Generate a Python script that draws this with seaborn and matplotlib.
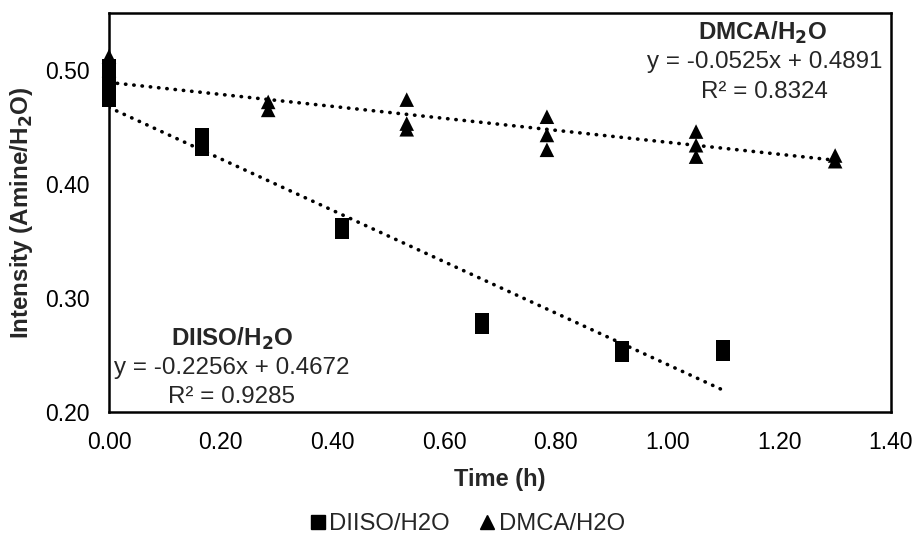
import numpy as np
import pandas as pd
import matplotlib
matplotlib.use("Agg")
import matplotlib.pyplot as plt
import seaborn as sns

# ---- data ----
diiso_x = [0.0, 0.0, 0.0, 0.167, 0.167, 0.417, 0.668, 0.918, 1.099]
diiso_y = [0.500, 0.483, 0.477, 0.440, 0.434, 0.361, 0.278, 0.253, 0.254]
dmca_x = [0.0, 0.0, 0.285, 0.285, 0.533, 0.533, 0.533, 0.784, 0.784, 0.784, 1.051, 1.051, 1.051, 1.30, 1.30]
dmca_y = [0.512, 0.500, 0.472, 0.465, 0.474, 0.453, 0.448, 0.459, 0.443, 0.430, 0.446, 0.434, 0.424, 0.425, 0.420]
fit_diiso = (-0.2256, 0.4672)
fit_dmca = (-0.0525, 0.4891)
x_ticks = [0.0, 0.2, 0.4, 0.6, 0.8, 1.0, 1.2, 1.4]
y_ticks = [0.2, 0.3, 0.4, 0.5]

sns.set_theme(style="white")
plt.rcParams['font.family'] = ['Liberation Sans', 'DejaVu Sans']

fig = plt.figure(figsize=(9.19, 5.40), dpi=100)
ax = fig.add_axes([109/919, 1-412/540, (891-109)/919, (412-13)/540])

df1 = pd.DataFrame({"x": diiso_x, "y": diiso_y})
df2 = pd.DataFrame({"x": dmca_x, "y": dmca_y})

rect = [(-0.34, -0.5), (0.34, -0.5), (0.34, 0.5), (-0.34, 0.5)]
sns.scatterplot(data=df1, x="x", y="y", ax=ax, marker=rect, s=230, color="black",
                edgecolor="none", linewidth=0, zorder=3, clip_on=False)
sns.scatterplot(data=df2, x="x", y="y", ax=ax, marker="^", s=110, color="black",
                edgecolor="none", linewidth=0, zorder=4, clip_on=False)

for xs, (m, b) in ((diiso_x, fit_diiso), (dmca_x, fit_dmca)):
    xl = np.array([min(xs), max(xs)])
    ax.plot(xl, m * xl + b, color="black", linestyle=(0, (0.1, 2.2)), linewidth=2.6,
            dash_capstyle="round", zorder=2)

ax.set_xlim(0, 1.4)
ax.set_ylim(0.2, 0.55)
ax.set_xticks(x_ticks)
ax.set_yticks(y_ticks)
ax.set_xticklabels([f"{v:.2f}" for v in x_ticks])
ax.set_yticklabels([f"{v:.2f}" for v in y_ticks])
ax.tick_params(axis="both", length=0, labelsize=16.5, colors="black")
ax.tick_params(axis="y", pad=14)
ax.tick_params(axis="x", pad=14)
for s in ax.spines.values():
    s.set_visible(True)
    s.set_color("black")
    s.set_linewidth(1.8)

ax.set_xlabel("Time (h)", fontsize=17, fontweight="bold", labelpad=10)
ax.set_ylabel("Intensity (Amine/H$_\\mathbf{2}$O)", fontsize=17.4, fontweight="bold", labelpad=7)

# annotations
fs = 17.4
ax.text(0.220, 0.264, "DIISO/H$_\\mathbf{2}$O", fontsize=fs, fontweight="bold", ha="center", va="center")
ax.text(0.220, 0.2385, "y = -0.2256x + 0.4672", fontsize=fs, ha="center", va="center")
ax.text(0.220, 0.213, "R² = 0.9285", fontsize=fs, ha="center", va="center")
ax.text(1.170, 0.5325, "DMCA/H$_\\mathbf{2}$O", fontsize=fs, fontweight="bold", ha="center", va="center")
ax.text(1.174, 0.507, "y = -0.0525x + 0.4891", fontsize=fs, ha="center", va="center")
ax.text(1.174, 0.4807, "R² = 0.8324", fontsize=fs, ha="center", va="center")

from matplotlib.lines import Line2D
handles = [Line2D([], [], marker="s", color="black", linestyle="none", markersize=10),
           Line2D([], [], marker="^", color="black", linestyle="none", markersize=10)]
fig.legend(handles, ["DIISO/H2O", "DMCA/H2O"], loc="center", bbox_to_anchor=(466/919, 1-524/540),
           ncol=2, frameon=False, fontsize=17.2, handletextpad=0.05, columnspacing=1.1,
           handlelength=0.9)

fig.savefig("out.png", dpi=100)
